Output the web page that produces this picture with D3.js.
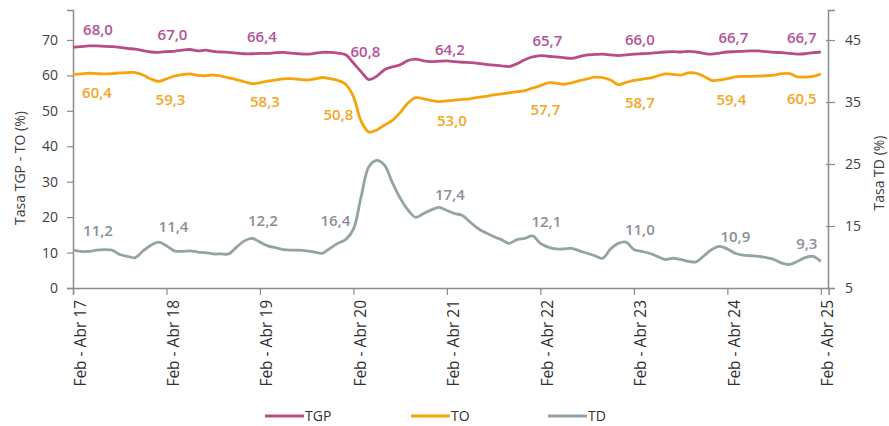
<!DOCTYPE html>
<html>
<head>
<meta charset="utf-8">
<script src="https://cdn.jsdelivr.net/npm/d3@7"></script>
<style>
  body { margin: 0; background: #fff; }
  text { font-family: "Open Sans", "DejaVu Sans", sans-serif; }
</style>
</head>
<body>
<div id="chart"></div>
<script>
var width = 889
var height = 426

// tick labels, one every 12 months (moving quarter Feb-Abr)
var tickLabels = ["Feb - Abr 17","Feb - Abr 18","Feb - Abr 19","Feb - Abr 20","Feb - Abr 21",
                  "Feb - Abr 22","Feb - Abr 23","Feb - Abr 24","Feb - Abr 25"]

// monthly values, Feb-Abr 17 ... Feb-Abr 25
var tgp = [67.9,68.1,68.3,68.3,68.2,68.1,67.9,67.6,67.4,67.0,66.6,66.5,
           66.7,66.8,67.1,67.3,66.9,67.1,66.8,66.6,66.5,66.3,66.1,66.1,
           66.2,66.2,66.4,66.5,66.3,66.1,66.0,66.2,66.5,66.5,66.3,65.8,
           63.5,61.0,58.8,59.8,61.6,62.4,63.0,64.2,64.6,64.1,63.9,64.0,
           64.1,63.9,63.7,63.6,63.4,63.1,62.9,62.7,62.5,63.3,64.4,65.2,
           65.6,65.4,65.2,65.0,64.8,65.3,65.8,65.9,66.0,65.8,65.6,65.8,
           66.0,66.1,66.2,66.4,66.6,66.7,66.6,66.8,66.6,66.2,66.0,66.3,
           66.6,66.7,66.8,66.9,66.9,66.7,66.5,66.4,66.2,66.0,66.1,66.4,
           66.6]
var to = [60.3,60.4,60.6,60.5,60.4,60.5,60.7,60.8,60.8,60.1,59.0,58.3,
          59.0,59.8,60.2,60.4,60.0,59.9,60.1,59.8,59.3,58.8,58.2,57.7,
          57.9,58.4,58.7,59.0,59.1,58.9,58.7,59.0,59.4,59.1,58.6,57.5,
          54.0,47.0,44.0,44.6,46.0,47.3,49.5,52.2,53.7,53.4,52.9,52.6,
          52.8,53.0,53.2,53.4,53.8,54.1,54.5,54.8,55.1,55.4,55.7,56.4,
          57.1,57.9,57.8,57.5,57.9,58.5,59.0,59.5,59.4,58.7,57.4,58.0,
          58.6,58.9,59.2,59.8,60.4,60.3,60.1,60.7,60.6,59.7,58.6,58.7,
          59.1,59.6,59.7,59.7,59.8,59.9,60.1,60.5,60.5,59.6,59.5,59.7,
          60.4]
var td = [11.1,10.9,10.9,11.1,11.2,11.1,10.4,10.1,9.9,11.0,11.9,12.4,
          11.8,11.0,10.9,11.0,10.8,10.7,10.5,10.5,10.5,11.6,12.6,13.0,
          12.4,11.8,11.5,11.2,11.1,11.1,11.0,10.8,10.6,11.4,12.2,12.8,
          14.5,19.8,24.6,25.6,24.8,22.0,19.5,17.6,16.4,17.0,17.6,18.0,
          17.5,17.0,16.7,15.6,14.6,13.9,13.3,12.8,12.2,12.8,13.0,13.4,
          12.2,11.6,11.3,11.3,11.4,11.0,10.6,10.2,9.8,11.3,12.2,12.4,
          11.2,10.9,10.6,10.1,9.6,9.8,9.6,9.3,9.2,10.2,11.2,11.7,
          11.3,10.6,10.3,10.2,10.1,9.9,9.6,9.0,8.8,9.3,9.9,10.1,
          9.3]

// values printed at each yearly tick
var tgpLabels = [68.0,67.0,66.4,60.8,64.2,65.7,66.0,66.7,66.7]
var toLabels  = [60.4,59.3,58.3,50.8,53.0,57.7,58.7,59.4,60.5]
var tdLabels  = [11.2,11.4,12.2,16.4,17.4,12.1,11.0,10.9,9.3]

var leftTicks = [0,10,20,30,40,50,60,70]
var rightTicks = [5,15,25,35,45]

// label nudges [dx, dy] relative to the point
var tgpNudge = [[25,-17],[6,-16],[2,-16],[12,-21],[3,-11],[7,-14],[6,-14],[6,-14],[-19,-14]]
var toNudge  = [[24,19],[4,22],[5,20],[-15,7],[5,21],[5,26],[6,23],[4,22],[-19,25]]
var tdNudge  = [[25,-19],[7,-22],[3,-23],[-18,3],[3,-16],[6,-22],[6,-21],[8,-15],[-14,-18]]

var colTGP = "#b84c86"
var colTO = "#f5a40c"
var colTD = "#93a5a0"
var axisCol = "#8c8c8c"

var svg = d3.select("#chart").append("svg")
    .attr("width", width)
    .attr("height", height)

var x = d3.scaleLinear().domain([0, 97]).range([73, 828.6])
var yL = d3.scaleLinear().domain([0, 78.45]).range([288, 10])
var yR = d3.scaleLinear().domain([5, 49.84]).range([288, 10])

// left axis
var leftAxis = svg.append("g")
    .attr("transform", "translate(73,0)")
    .call(d3.axisLeft(yL).tickValues(leftTicks).tickSize(6).tickPadding(9))
leftAxis.select(".domain").attr("stroke", axisCol).attr("stroke-width", 1.5)
leftAxis.selectAll(".tick line").attr("stroke", axisCol).attr("stroke-width", 1.2)
leftAxis.selectAll("text").attr("fill", "#404040").style("font-size", "14px")

// right axis, ticks cross the line
var rightAxis = svg.append("g")
    .attr("transform", "translate(828,0)")
    .call(d3.axisRight(yR).tickValues(rightTicks).tickSize(7).tickPadding(10))
rightAxis.select(".domain").attr("stroke", axisCol).attr("stroke-width", 1.5)
rightAxis.selectAll(".tick line").attr("x1", -2).attr("stroke", axisCol).attr("stroke-width", 1.2)
rightAxis.selectAll("text").attr("fill", "#404040").style("font-size", "14px")

// bottom axis
var xAxis = svg.append("g")
    .attr("transform", "translate(0,288)")
    .call(d3.axisBottom(x).tickValues(d3.range(0, 97, 12)).tickSize(7)
      .tickFormat(function(d, i) { return tickLabels[i] }))
xAxis.select(".domain").attr("stroke", axisCol).attr("stroke-width", 1.5)
xAxis.selectAll(".tick line").attr("stroke", axisCol).attr("stroke-width", 1.2)
xAxis.selectAll("text")
    .attr("fill", "#303030")
    .style("font-size", "15.5px")
    .style("text-anchor", "end")
    .attr("x", 0).attr("y", 0).attr("dy", 0)
    .attr("transform", "translate(12,12) rotate(-90)")

// axis titles
svg.append("text")
    .attr("transform", "translate(25,168) rotate(-90)")
    .attr("text-anchor", "middle")
    .attr("fill", "#404040")
    .style("font-size", "14px")
    .text("Tasa TGP - TO (%)")
svg.append("text")
    .attr("transform", "translate(884,173) rotate(-90)")
    .attr("text-anchor", "middle")
    .attr("fill", "#404040")
    .style("font-size", "14px")
    .text("Tasa TD (%)")

var series = [
  {name: "TGP", values: tgp, scale: yL, color: colTGP, labels: tgpLabels, nudge: tgpNudge, labelColor: "#b5529a"},
  {name: "TO", values: to, scale: yL, color: colTO, labels: toLabels, nudge: toNudge, labelColor: "#f4a625"},
  {name: "TD", values: td, scale: yR, color: colTD, labels: tdLabels, nudge: tdNudge, labelColor: "#8a8f98"}
]

series.forEach(function(s) {
  var line = d3.line()
      .x(function(d, i) { return x(i) })
      .y(function(d) { return s.scale(d) })
      .curve(d3.curveCatmullRom.alpha(0.5))
  svg.append("path")
      .datum(s.values)
      .attr("fill", "none")
      .attr("stroke", s.color)
      .attr("stroke-width", 2.8)
      .attr("stroke-linejoin", "round")
      .attr("d", line)

  svg.selectAll(".lbl-" + s.name)
      .data(s.labels)
      .enter()
      .append("text")
      .attr("class", "lbl-" + s.name)
      .attr("x", function(d, i) { return x(i * 12) + s.nudge[i][0] })
      .attr("y", function(d, i) { return s.scale(d) + s.nudge[i][1] })
      .attr("dy", "0.35em")
      .attr("text-anchor", "middle")
      .attr("fill", s.labelColor)
      .style("font-size", "15px")
      .style("font-weight", 600)
      .text(function(d) { return d.toFixed(1).replace(".", ",") })
})

// legend
var legendX = [265, 411, 548]
var legend = svg.selectAll(".legend")
    .data(series)
    .enter()
    .append("g")
    .attr("class", "legend")
    .attr("transform", function(d, i) { return "translate(" + legendX[i] + ",416)" })
legend.append("line")
    .attr("x1", 0).attr("x2", 39)
    .attr("stroke", function(d) { return d.color })
    .attr("stroke-width", 3)
legend.append("text")
    .attr("x", 40)
    .attr("dy", "0.35em")
    .attr("fill", "#303030")
    .style("font-size", "14px")
    .text(function(d) { return d.name })
</script>
</body>
</html>
